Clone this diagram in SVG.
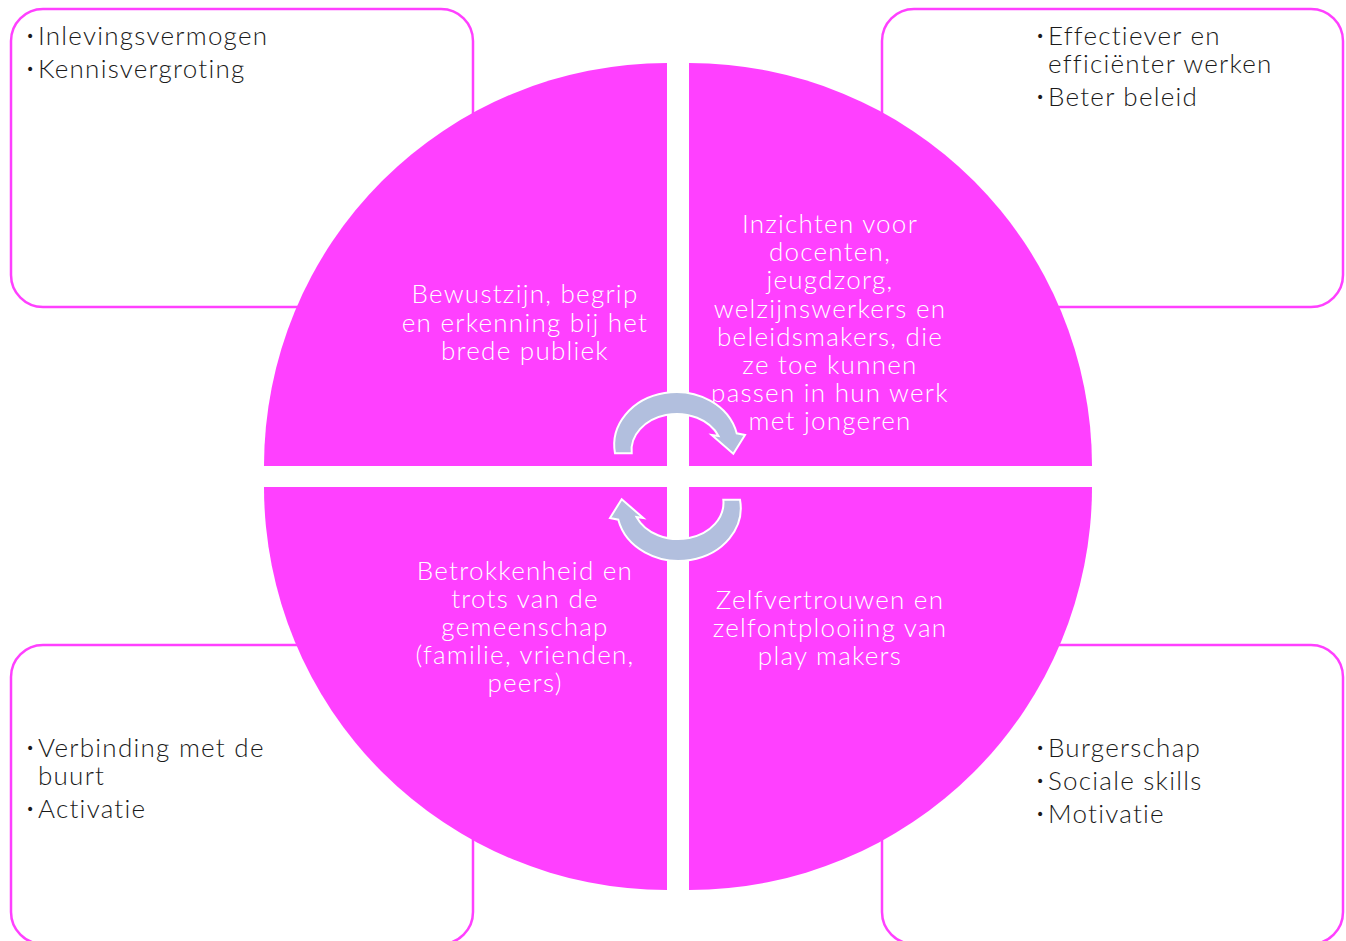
<svg xmlns="http://www.w3.org/2000/svg" width="1346" height="941" viewBox="0 0 1346 941">
  <style>
    .box { fill: #FFFFFF; stroke: #FF40FF; stroke-width: 2.5; }
    .quad { fill: #FF40FF; }
    .arrow { fill: #B2BFDE; stroke: #FFFFFF; stroke-width: 2; stroke-linejoin: miter; }
    .t { font-family: Lato, "Open Sans", "Liberation Sans", sans-serif; font-weight: 300; font-size: 26px; letter-spacing: 1.25px; }
    .dark { fill: #1A1A1A; }
    .light { fill: #FFFFFF; text-anchor: middle; }
    .bul { font-family: "DejaVu Sans", sans-serif; font-size: 14px; fill: #1A1A1A; }
  </style>
  <rect width="1346" height="941" fill="#FFFFFF"/>

  <g id="box-tl">
    <rect class="box" x="11" y="9" width="462" height="298" rx="32" ry="32"/>
    <text class="bul" x="26" y="41">•</text>
    <text class="t dark" x="38" y="45">Inlevingsvermogen</text>
    <text class="bul" x="26" y="74">•</text>
    <text class="t dark" x="38" y="78">Kennisvergroting</text>
  </g>
  <g id="box-tr">
    <rect class="box" x="882" y="9" width="461" height="298" rx="32" ry="32"/>
    <text class="bul" x="1036" y="41">•</text>
    <text class="t dark" x="1048" y="45">Effectiever en</text>
    <text class="t dark" x="1048" y="73">efficiënter werken</text>
    <text class="bul" x="1036" y="102">•</text>
    <text class="t dark" x="1048" y="106">Beter beleid</text>
  </g>
  <g id="box-bl">
    <rect class="box" x="11" y="645" width="462" height="299" rx="32" ry="32"/>
    <text class="bul" x="26" y="753">•</text>
    <text class="t dark" x="38" y="757">Verbinding met de</text>
    <text class="t dark" x="38" y="785">buurt</text>
    <text class="bul" x="26" y="814">•</text>
    <text class="t dark" x="38" y="818">Activatie</text>
  </g>
  <g id="box-br">
    <rect class="box" x="882" y="645" width="461" height="299" rx="32" ry="32"/>
    <text class="bul" x="1036" y="753">•</text>
    <text class="t dark" x="1048" y="757">Burgerschap</text>
    <text class="bul" x="1036" y="786">•</text>
    <text class="t dark" x="1048" y="790">Sociale skills</text>
    <text class="bul" x="1036" y="819">•</text>
    <text class="t dark" x="1048" y="823">Motivatie</text>
  </g>

  <g id="quad-tl">
    <path class="quad" d="M667,466 L264,466 A403,403 0 0 1 667,63 Z"/>
    <text class="t light" x="525" y="303">Bewustzijn, begrip</text>
    <text class="t light" x="525" y="331.5">en erkenning bij het</text>
    <text class="t light" x="525" y="359.5">brede publiek</text>
  </g>
  <g id="quad-tr">
    <path class="quad" d="M689,466 L689,63 A403,403 0 0 1 1092,466 Z"/>
    <text class="t light" x="830" y="233">Inzichten voor</text>
    <text class="t light" x="830" y="261">docenten,</text>
    <text class="t light" x="830" y="289">jeugdzorg,</text>
    <text class="t light" x="830" y="317.5">welzijnswerkers en</text>
    <text class="t light" x="830" y="345.5">beleidsmakers, die</text>
    <text class="t light" x="830" y="374">ze toe kunnen</text>
    <text class="t light" x="830" y="402">passen in hun werk</text>
    <text class="t light" x="830" y="430">met jongeren</text>
  </g>
  <g id="quad-bl">
    <path class="quad" d="M667,487 L667,890 A403,403 0 0 1 264,487 Z"/>
    <text class="t light" x="525" y="579.5">Betrokkenheid en</text>
    <text class="t light" x="525" y="607.5">trots van de</text>
    <text class="t light" x="525" y="636">gemeenschap</text>
    <text class="t light" x="525" y="664">(familie, vrienden,</text>
    <text class="t light" x="525" y="692">peers)</text>
  </g>
  <g id="quad-br">
    <path class="quad" d="M689,487 L1092,487 A403,403 0 0 1 689,890 Z"/>
    <text class="t light" x="830" y="608.5">Zelfvertrouwen en</text>
    <text class="t light" x="830" y="636.5">zelfontplooiing van</text>
    <text class="t light" x="830" y="664.5">play makers</text>
  </g>

  <g id="connectors">
    <path id="arrow-top" class="arrow" d="M615,453.3 A62,53 0 0 1 736.7,433.3 L745,435 L733.3,453.8 L711.7,435 L718.5,436 A45.3,36.3 0 0 0 631.7,453.3 Z"/>
    <path id="arrow-bottom" class="arrow" transform="rotate(180 677.5 476.5)" d="M615,453.3 A62,53 0 0 1 736.7,433.3 L745,435 L733.3,453.8 L711.7,435 L718.5,436 A45.3,36.3 0 0 0 631.7,453.3 Z"/>
  </g>
</svg>
